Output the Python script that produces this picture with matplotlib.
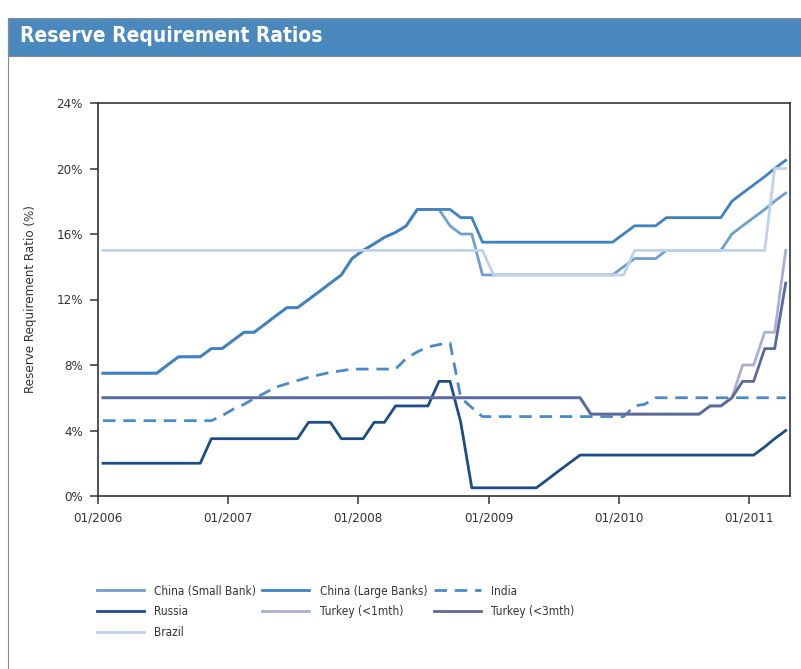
import numpy as np
import pandas as pd
import matplotlib
matplotlib.use("Agg")
import matplotlib.pyplot as plt
import matplotlib.dates as mdates
from matplotlib.patches import Rectangle
from matplotlib.lines import Line2D

# Monthly reserve requirement ratios (%), Jan 2006 - Apr 2011
dates = pd.date_range("2006-01-01", periods=64, freq="MS") + pd.Timedelta(days=14)

china_small = ([7.5] * 6 + [8, 8.5, 8.5, 8.5, 9, 9]
               + [9.5, 10, 10, 10.5, 11, 11.5, 11.5, 12, 12.5, 13, 13.5, 14.5]
               + [15, 15.4, 15.8, 16.1, 16.5, 17.5, 17.5, 17.5, 16.5, 16, 16, 13.5]
               + [13.5] * 12
               + [14, 14.5, 14.5, 14.5, 15, 15, 15, 15, 15, 15, 16, 16.5]
               + [17, 17.5, 18, 18.5])
china_large = ([7.5] * 6 + [8, 8.5, 8.5, 8.5, 9, 9]
               + [9.5, 10, 10, 10.5, 11, 11.5, 11.5, 12, 12.5, 13, 13.5, 14.5]
               + [15, 15.4, 15.8, 16.1, 16.5, 17.5, 17.5, 17.5, 17.5, 17, 17, 15.5]
               + [15.5] * 12
               + [16, 16.5, 16.5, 16.5, 17, 17, 17, 17, 17, 17, 18, 18.5]
               + [19, 19.5, 20, 20.5])
india = ([4.6] * 11 + [4.9]
         + [5.3, 5.6, 5.95, 6.3, 6.65, 6.85, 7.05, 7.25, 7.4, 7.55, 7.65, 7.75]
         + [7.75, 7.75, 7.75, 7.75, 8.4, 8.8, 9.1, 9.25, 9.35, 6.0, 5.4, 4.85]
         + [4.85] * 13
         + [5.5, 5.6] + [6.0] * 13)
russia = ([2.0] * 10 + [3.5] * 9 + [4.5] * 3 + [3.5] * 3 + [4.5] * 2
          + [5.5] * 4 + [7.0] * 2 + [4.5] + [0.5] * 7 + [1.0, 1.5, 2.0]
          + [2.5] * 17 + [3.0, 3.5, 4.0])
turkey_1m = [6.0] * 45 + [5.0] * 11 + [5.5, 5.5, 6.0, 8.0, 8.0, 10.0, 10.0, 15.0]
turkey_3m = [6.0] * 45 + [5.0] * 11 + [5.5, 5.5, 6.0, 7.0, 7.0, 9.0, 9.0, 13.0]
brazil = [15.0] * 36 + [13.5] * 13 + [15.0] * 13 + [20.0, 20.0]

series = [
    ("China (Small Bank)", china_small, "#6f9fd2", "-"),
    ("China (Large Banks)", china_large, "#3f82c2", "-"),
    ("India", india, "#4a8acb", "--"),
    ("Russia", russia, "#1d4d86", "-"),
    ("Turkey (<1mth)", turkey_1m, "#a9b1d3", "-"),
    ("Turkey (<3mth)", turkey_3m, "#5a699e", "-"),
    ("Brazil", brazil, "#bfd2ec", "-"),
]

# DejaVu Sans Condensed is close to the narrow face of the original
plt.rcParams["font.family"] = ["DejaVu Sans"]
plt.rcParams["font.stretch"] = "condensed"

fig = plt.figure(figsize=(8.01, 6.69), dpi=100)

# header bar
fig.patches.append(Rectangle((8 / 801, 1 - 56 / 669), 793 / 801, 38 / 669,
                             transform=fig.transFigure, facecolor="#4b88be",
                             edgecolor="#8a8a8a", lw=0.8, zorder=0))
fig.lines.append(Line2D([8 / 801, 8 / 801], [0, 1 - 18 / 669],
                        transform=fig.transFigure, color="#8a8a8a", lw=0.8))
fig.text(20 / 801, 1 - 36 / 669, "Reserve Requirement Ratios", color="white",
         fontsize=15, fontweight="bold", va="center", ha="left")

ax = fig.add_axes([98 / 801, 1 - 496 / 669, 692 / 801, 393 / 669])

handles = {}
for name, vals, col, ls in series:
    if ls == "--":
        (h,) = ax.plot(dates, vals, color=col, lw=2.0, dashes=(4.5, 2.8), label=name)
    else:
        (h,) = ax.plot(dates, vals, color=col, lw=2.0, label=name)
    handles[name] = h

ax.set_ylim(0, 24)
ax.set_yticks(np.arange(0, 25, 4))
ax.set_yticklabels([f"{v}%" for v in range(0, 25, 4)])
ax.set_xlim(pd.Timestamp("2006-01-01"), pd.Timestamp("2011-04-27"))
ax.set_xticks([pd.Timestamp(f"{y}-01-01") for y in range(2006, 2012)])
ax.xaxis.set_major_formatter(mdates.DateFormatter("%m/%Y"))
ax.set_ylabel("Reserve Requirement Ratio (%)", fontsize=9.5, color="#333333", labelpad=14)

for s in ax.spines.values():
    s.set_color("#333333")
    s.set_linewidth(1.2)
ax.tick_params(direction="out", length=6, width=1.1, color="#333333",
               labelsize=9.5, labelcolor="#333333", pad=5)

order = ["China (Small Bank)", "Russia", "Brazil", "China (Large Banks)",
         "Turkey (<1mth)", "India", "Turkey (<3mth)"]
fig.legend([handles[n] for n in order], order, ncol=3, frameon=False,
           loc="upper left", bbox_to_anchor=(86 / 801, 1 - 574 / 669),
           fontsize=8.5, handlelength=4.0, handletextpad=0.85,
           columnspacing=0.55, labelspacing=0.66, labelcolor="#333333")

fig.savefig("out.png", dpi=100)
